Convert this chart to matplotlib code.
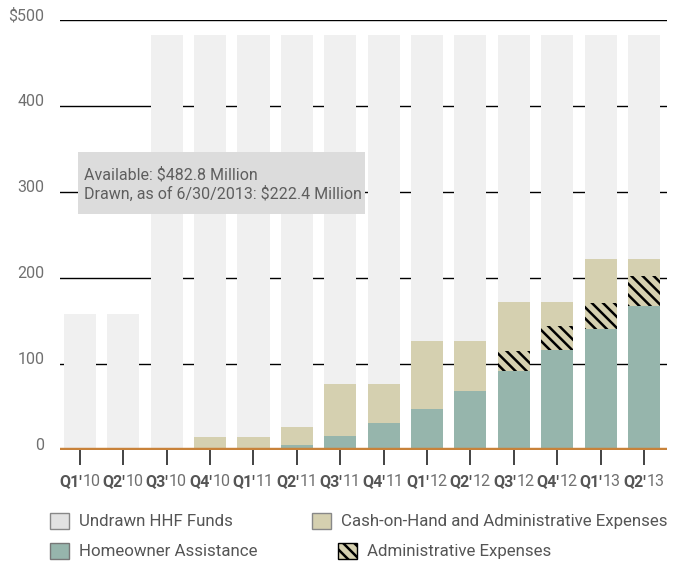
import matplotlib
matplotlib.use("Agg")
import matplotlib.pyplot as plt
from matplotlib.patches import Patch, Rectangle
import numpy as np

quarters_bold = ["Q1'", "Q2'", "Q3'", "Q4'", "Q1'", "Q2'", "Q3'", "Q4'", "Q1'", "Q2'", "Q3'", "Q4'", "Q1'", "Q2'"]
quarters_year = ["10", "10", "10", "10", "11", "11", "11", "11", "12", "12", "12", "12", "13", "13"]
available = [158, 158, 482.8, 482.8, 482.8, 482.8, 482.8, 482.8, 482.8, 482.8, 482.8, 482.8, 482.8, 482.8]
drawn = [0, 0, 0, 15, 15, 27, 77, 77, 127, 127, 172, 172, 222, 222.4]
homeowner = [0, 0, 0, 0, 0, 6, 16, 31, 48, 69, 92, 116, 141, 167]
admin = [0, 0, 0, 0, 0, 0, 0, 0, 0, 0, 23, 28, 30, 35]
yticks = [0, 100, 200, 300, 400, 500]
ytick_labels = ["0", "100", "200", "300", "400", "$500"]
note_lines = ["Available: $482.8 Million", "Drawn, as of 6/30/2013: $222.4 Million"]
legend_labels = ["Undrawn HHF Funds", "Homeowner Assistance",
                 "Cash-on-Hand and Administrative Expenses", "Administrative Expenses"]

plt.rcParams['font.family'] = ["Roboto", "DejaVu Sans"]
plt.rcParams['hatch.linewidth'] = 1.8

C_UNDRAWN = "#F0F0F0"
C_CASH = "#D5D0B0"
C_HA = "#96B5AC"
C_TEXT = "#707070"

W, H = 686, 564
AX_L, AX_R, AX_T, AX_B = 59.5, 667, 20, 450
fig = plt.figure(figsize=(W / 100, H / 100), dpi=100)
ax = fig.add_axes([AX_L / W, 1 - AX_B / H, (AX_R - AX_L) / W, (AX_B - AX_T) / H])

def axfx(px):
    return (px - AX_L) / (AX_R - AX_L)

def axfy(py):
    return (AX_B - py) / (AX_B - AX_T)

x = np.arange(len(available))
av = np.array(available)
dr = np.array(drawn)
ha = np.array(homeowner)
ad = np.array(admin)
cash = dr - ha - ad
undrawn = av - dr
bw = 0.74

ax.bar(x, ha, bw, color=C_HA, linewidth=0, zorder=2)
ax.bar(x, ad, bw, bottom=ha, color=C_CASH, edgecolor="black", hatch="\\\\\\", linewidth=0, zorder=2)
ax.bar(x, cash, bw, bottom=ha + ad, color=C_CASH, linewidth=0, zorder=2)
ax.bar(x, undrawn, bw, bottom=dr, color=C_UNDRAWN, linewidth=0, zorder=2)

ax.set_xlim(-0.47, len(x) - 0.47)
ax.set_ylim(0, 500)
for yv in yticks[1:]:
    ax.axhline(yv, color="black", lw=1.0, zorder=1)
ax.axhline(0, color="#C8823A", lw=3.2, zorder=3)

for s in ax.spines.values():
    s.set_visible(False)
ax.set_yticks(yticks)
ax.set_yticklabels(ytick_labels)
ax.tick_params(axis='y', length=0, pad=11, labelsize=11.5, labelcolor=C_TEXT)
for lab in ax.get_yticklabels():
    lab.set_verticalalignment('baseline')
ax.set_xticks(x)
ax.set_xticklabels([])
ax.tick_params(axis='x', length=11, width=1.2, color="#222222", direction='out', pad=0)

# x labels: bold quarter + normal year
for i in range(len(x)):
    t1 = ax.annotate(quarters_bold[i], xy=(i, 0), xycoords=('data', 'axes fraction'),
                     xytext=(2, -32), textcoords='offset pixels',
                     ha='right', va='center', fontsize=11.5, fontweight='bold', color="#555555")
    ax.annotate(quarters_year[i], xy=(1, 0.5), xycoords=t1, xytext=(0.5, 0),
                textcoords='offset pixels', ha='left', va='center',
                fontsize=11.5, color="#707070")

# note box
ax.add_patch(Rectangle((axfx(78), axfy(214)), axfx(365) - axfx(78), axfy(152) - axfy(214),
                       transform=ax.transAxes, facecolor="#DCDCDC", edgecolor="none", zorder=5))
ax.text(axfx(84), axfy(184), "\n".join(note_lines), transform=ax.transAxes, fontsize=11.5,
        color="#5E5E5E", va='center', ha='left', linespacing=1.25, zorder=6)

handles = [Patch(facecolor="#E2E2E2", edgecolor="#888888", lw=1),
           Patch(facecolor=C_HA, edgecolor="#777777", lw=1),
           Patch(facecolor=C_CASH, edgecolor="#888888", lw=1),
           Patch(facecolor=C_CASH, edgecolor="black", hatch="\\\\\\", lw=1)]
# patch left-x and center-y (pixels) for each legend entry
leg_pos = [(50, 521), (50, 551), (312, 521), (338, 551)]
for h, lab, (px, py) in zip(handles, legend_labels, leg_pos):
    leg = fig.legend([h], [lab], loc='center left', bbox_to_anchor=(px / W, 1 - py / H),
                     frameon=False, fontsize=12.2, handlelength=1.1, handleheight=1.1,
                     handletextpad=0.6, borderaxespad=0, borderpad=0)
    for t in leg.get_texts():
        t.set_color("#555555")

fig.savefig("out.png", dpi=100)
